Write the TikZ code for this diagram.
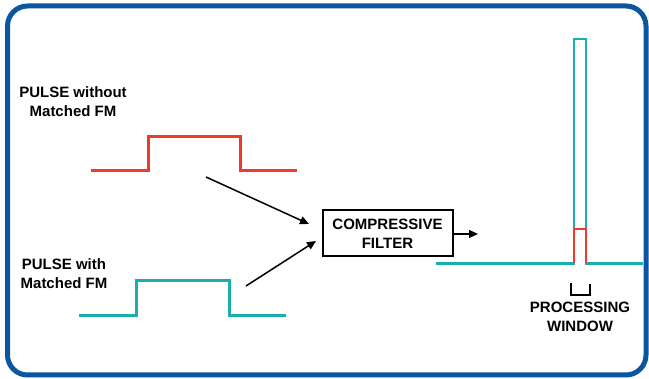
\documentclass[tikz,border=0pt]{standalone}
\usepackage{fontspec}
\setmainfont{Liberation Sans}
\usetikzlibrary{arrows.meta}
\definecolor{frameblue}{HTML}{0A56A0}
\definecolor{pulsered}{HTML}{EE3A2A}
\definecolor{pulseteal}{HTML}{1AAFAE}
\begin{document}
\begin{tikzpicture}[x=1pt,y=-1pt,
  lbl/.style={font=\fontsize{15}{18}\selectfont\bfseries, align=center, inner sep=0pt},
  redline/.style={draw=pulsered, line width=3pt},
  tealline/.style={draw=pulseteal, line width=3pt},
  conn/.style={draw=black, line width=1.5pt, -{Triangle[length=9pt,width=8pt]}},
  filterbox/.style={draw=black, line width=2pt, minimum width=130pt, minimum height=46pt, inner sep=0pt, align=center, font=\fontsize{15}{18}\selectfont\bfseries}]
\useasboundingbox (0,0) rectangle (649,379);
% frame
\draw[frameblue, line width=5pt, rounded corners=20pt] (7.5,6) rectangle (646,375);
% labels
\node[lbl] (lwo) at (73,102) {PULSE without\\[1pt]Matched FM};
\node[lbl] (lw) at (64,274) {PULSE with\\[1pt]Matched FM};
% red pulse
\draw[redline] (91,171) -- (148,171) -- (148,136.5) -- (240,136.5) -- (240,171) -- (297,171);
% teal pulse
\draw[tealline] (79,315.5) -- (136.5,315.5) -- (136.5,281) -- (229.5,281) -- (229.5,315.5) -- (286,315.5);
% filter
\node[filterbox] (filt) at (387.5,233.5) {COMPRESSIVE\\[1pt]FILTER};
% arrows
\coordinate (a1s) at (206,177);
\coordinate (a1e) at (309,224);
\coordinate (a2s) at (246,286);
\coordinate (a2e) at (316,241);
\coordinate (a3e) at (478,234);
\draw[conn] (a1s) -- (a1e);
\draw[conn] (a2s) -- (a2e);
\draw[conn] (filt.east |- a3e) -- (a3e);
% output
\draw[tealline, line width=2.5pt] (436,263.5) -- (574,263.5) -- (574,39) -- (586,39) -- (586,263.5) -- (643,263.5);
\draw[redline, line width=2.5pt] (574,263.5) -- (574,229) -- (586,229) -- (586,263.5);
% processing window bracket
\draw[black, line width=2pt] (571,283) -- (571,295) -- (590,295) -- (590,284);
\node[lbl] (pw) at (580,316.5) {PROCESSING\\[1pt]WINDOW};
\end{tikzpicture}
\end{document}
